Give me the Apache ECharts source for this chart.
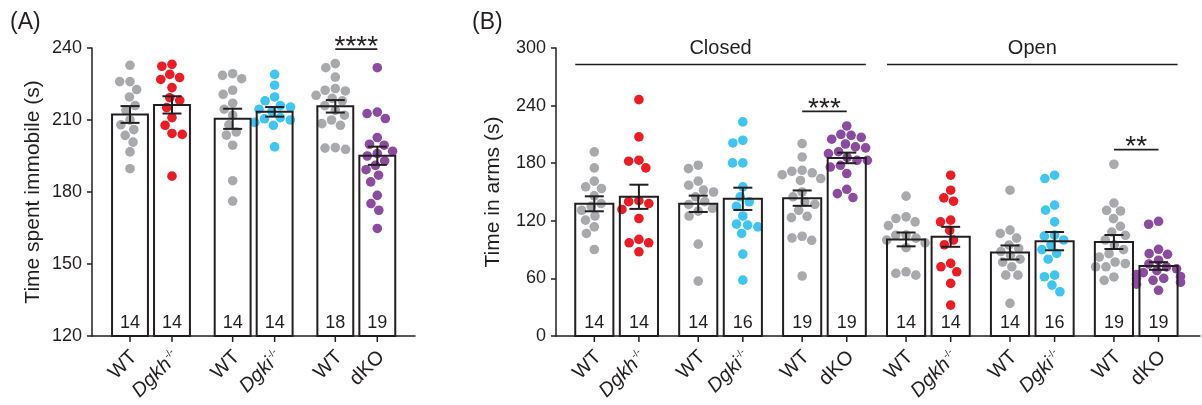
<!DOCTYPE html>
<html>
<head>
<meta charset="utf-8">
<script src="https://cdn.jsdelivr.net/npm/echarts@6.0.0/dist/echarts.min.js"></script>
<style>
  html, body { margin: 0; padding: 0; background: #fff; }
  #main { width: 1202px; height: 405px; }
</style>
</head>
<body>
<div id="main"></div>
<script>
// ---- panel A: time spent immobile ----
let labelsA = ['WT', 'Dgkh-/-', 'WT', 'Dgki-/-', 'WT', 'dKO'];
let meanA = [212.3, 216.3, 210.5, 213.4, 215.7, 195.1];
let semA = [3.5, 3.6, 4.2, 2.0, 2.6, 3.8];
let nA = [14, 14, 14, 14, 18, 19];
let dotsA = [
  [232.8, 226, 226, 222.7, 219.6, 216, 214, 210, 208, 206, 203.6, 200.8, 196.7, 189.7],
  [233.2, 232.4, 229, 227.7, 226.9, 223.5, 219.3, 218.2, 215.2, 211, 207.8, 204.4, 204, 186.6],
  [229.3, 228.6, 227.2, 222.4, 220.7, 217, 214.5, 212, 208, 205, 203.7, 199.5, 184.7, 176.2],
  [229, 224.5, 219.6, 218, 216, 215.4, 214.5, 213.5, 211, 210, 210.5, 209, 207.8, 198.8],
  [233.5, 231.8, 227.9, 223.1, 222.4, 222.1, 220.3, 219, 218, 216, 214, 212, 210, 208.5, 207.8, 198.5, 198.3, 197.8],
  [231.8, 213.3, 212.7, 210.6, 202.7, 199.9, 199.5, 197, 196, 195, 193, 191.1, 189.3, 187, 184.2, 178.6, 175.2, 172.4, 164.8]
];
let sigA = [[4, 5]];
let sigTextA = ['****'];
let sigLevelA = [239.5];

// ---- panel B: time in closed / open arms ----
let arms = ['Closed', 'Open'];
let armLevel = [282.7, 282.7];
let labelsB = ['WT', 'Dgkh-/-', 'WT', 'Dgki-/-', 'WT', 'dKO', 'WT', 'Dgkh-/-', 'WT', 'Dgki-/-', 'WT', 'dKO'];
let meanB = [137.7, 145.0, 137.7, 142.9, 143.6, 185.5, 100.6, 103.3, 87.0, 98.8, 97.9, 72.9];
let semB = [7.8, 12.6, 8.5, 11.6, 8.0, 5.5, 7.2, 10.4, 7.3, 9.5, 7.3, 4.0];
let nB = [14, 14, 14, 16, 19, 19, 14, 14, 14, 16, 19, 19];
let dotsB = [
  [191.8, 175.1, 161.3, 155.4, 153.6, 146, 138, 135, 131, 125, 120.7, 113.7, 106.8, 90.1],
  [246.2, 207.4, 183.1, 182.1, 175.1, 141, 140, 138, 131.8, 122.4, 100.6, 97.1, 97.1, 87.7],
  [177.9, 174.4, 161.3, 157.1, 152, 150, 145, 140, 137, 133, 130, 125, 95.7, 57.2],
  [223, 203.9, 201.1, 180.3, 180.3, 155.4, 145, 139.8, 135, 125, 116.5, 115.5, 113.7, 106.8, 85.3, 58.2],
  [200.4, 186.5, 172.6, 171.6, 170, 168, 164, 162, 150, 145, 139.6, 137.2, 130.9, 124.7, 123.3, 103.9, 102.1, 99.7, 62.5],
  [218.8, 210, 209, 207, 205, 200, 197, 196, 192, 190, 186, 183, 183, 177.8, 176, 169.2, 152.8, 148.3, 144.2],
  [145.7, 124.1, 122.4, 118.9, 115, 105, 105.1, 102, 99.9, 97, 92, 66.9, 65.2, 63.4],
  [167.5, 151.9, 143.9, 140.4, 120.7, 118.9, 110, 100, 95, 75.6, 72.1, 66.9, 54.8, 32.2],
  [151.9, 110.3, 106.8, 102, 94.7, 91.2, 88, 84, 80, 77, 72.1, 63.4, 63.4, 34],
  [167.5, 164, 136.3, 131.1, 118.9, 105.1, 104, 100, 95, 90, 86, 80, 63.4, 61.7, 53, 46.1],
  [178.9, 138.5, 130.9, 130.2, 122.3, 114.3, 108.3, 104.9, 100, 95, 90, 85.8, 82.3, 77.1, 75.4, 72.1, 72.1, 61.5, 58],
  [119.5, 116.4, 90.3, 85.8, 85.1, 78.9, 75, 72, 70, 68, 66, 64, 62, 60, 59.8, 58, 56, 54, 47.6]
];
let sigB = [[4, 5], [10, 11]];
let sigTextB = ['***', '**'];
let sigLevelB = [234, 194.2];

let genoColor = { 'WT': '#a7a9ac', 'Dgkh-/-': '#ed1c24', 'Dgki-/-': '#3ec5f1', 'dKO': '#8b4b9f' };
let INK = '#231f20';
let FONT = '"Liberation Sans", Arial, Helvetica, sans-serif';
let BAR_W = 0.855; // bar width, in units of the in-pair spacing
let DOT_R = 4.8;

// bar centres: pairs one unit apart, groups gstep apart
function centres(count, gstep) {
  let xs = [];
  for (let i = 0; i < count; i++) xs.push(Math.floor(i / 2) * gstep + (i % 2));
  return xs;
}

// simple beeswarm: push each dot sideways as little as needed
function swarm(ys, dist, maxHalf) {
  let order = ys.map((y, i) => i).sort((a, b) => ys[a] - ys[b]);
  let placed = [];
  let xs = new Array(ys.length);
  order.forEach(i => {
    let y = ys[i];
    let blocks = [];
    placed.forEach(p => {
      let dy = Math.abs(p.y - y);
      if (dy < dist) {
        let w = Math.sqrt(dist * dist - dy * dy);
        blocks.push([p.x - w, p.x + w]);
      }
    });
    let cands = [0];
    blocks.forEach(b => cands.push(b[0], b[1]));
    cands.sort((a, b) => Math.abs(a) - Math.abs(b));
    let best = 0;
    for (let c of cands) {
      if (blocks.every(b => c <= b[0] + 1e-6 || c >= b[1] - 1e-6)) { best = c; break; }
    }
    if (Math.abs(best) > maxHalf) best = Math.sign(best) * maxHalf;
    xs[i] = best;
    placed.push({ x: best, y: y });
  });
  return xs;
}

function labelRich(name) {
  if (name.indexOf('-/-') > 0) return '{it|' + name.replace('-/-', '') + '}{sup|-/-}';
  return '{n|' + name + '}';
}

function panelSeries(k, p) {
  let xs = centres(p.means.length, p.gstep);
  let data = p.means.map((m, i) => [xs[i], m, p.sems[i], p.ns[i]]);
  let common = { type: 'custom', xAxisIndex: k, yAxisIndex: k, clip: false, silent: true, animation: false };
  let list = [];
  // white bar bodies
  list.push(Object.assign({}, common, {
    z: 1, data: data,
    renderItem: function (params, api) {
      let top = api.coord([api.value(0), api.value(1)]);
      let base = api.coord([api.value(0), p.yMin]);
      let w = api.size([BAR_W, 0])[0];
      return { type: 'rect', shape: { x: top[0] - w / 2, y: top[1], width: w, height: base[1] - top[1] }, style: { fill: '#fff' } };
    }
  }));
  // individual animals
  list.push(Object.assign({}, common, {
    z: 2, data: data,
    renderItem: function (params, api) {
      let i = params.dataIndex;
      let cx = api.coord([api.value(0), p.yMin])[0];
      let ys = p.dots[i].map(v => api.coord([api.value(0), v])[1]);
      let offs = swarm(ys, DOT_R * 2.15, 22);
      let color = genoColor[p.labels[i]];
      return {
        type: 'group',
        children: ys.map((y, j) => ({ type: 'circle', shape: { cx: cx + offs[j], cy: y, r: DOT_R }, style: { fill: color } }))
      };
    }
  }));
  // outlines, error bars, n, ticks and genotype labels
  list.push(Object.assign({}, common, {
    z: 3, data: data,
    renderItem: function (params, api) {
      let i = params.dataIndex;
      let x = api.value(0), m = api.value(1), s = api.value(2);
      let top = api.coord([x, m]);
      let base = api.coord([x, p.yMin]);
      let hi = api.coord([x, m + s])[1];
      let lo = api.coord([x, m - s])[1];
      let w = api.size([BAR_W, 0])[0];
      let cx = top[0];
      let line = { stroke: INK, lineWidth: 2 };
      return {
        type: 'group',
        children: [
          { type: 'rect', shape: { x: cx - w / 2, y: top[1], width: w, height: base[1] - top[1] }, style: { fill: null, stroke: INK, lineWidth: 2 } },
          { type: 'line', shape: { x1: cx, y1: hi, x2: cx, y2: lo }, style: line },
          { type: 'line', shape: { x1: cx - 9.5, y1: hi, x2: cx + 9.5, y2: hi }, style: line },
          { type: 'line', shape: { x1: cx - 9.5, y1: lo, x2: cx + 9.5, y2: lo }, style: line },
          { type: 'text', x: cx, y: base[1] - 4, style: { text: String(api.value(3)), font: '18px ' + FONT, fill: INK, align: 'center', verticalAlign: 'bottom' } },
          { type: 'line', shape: { x1: cx, y1: base[1], x2: cx, y2: base[1] + 6 }, style: { stroke: INK, lineWidth: 1.5 } },
          {
            type: 'text', x: cx + 4, y: base[1] + 18, rotation: Math.PI / 4,
            style: {
              text: labelRich(p.labels[i]), align: 'right', verticalAlign: 'middle', fill: INK,
              rich: {
                n: { fontSize: 20, fontFamily: FONT, fill: INK },
                it: { fontSize: 20, fontFamily: FONT, fontStyle: 'italic', fill: INK },
                sup: { fontSize: 10, fontFamily: FONT, fill: INK, verticalAlign: 'top', padding: [0, 0, 9, 1] }
              }
            }
          }
        ]
      };
    }
  }));
  // significance bars
  list.push(Object.assign({}, common, {
    z: 4, encode: { x: [0, 1], y: 2 },
    data: p.sig.map((pr, j) => [xs[pr[0]], xs[pr[1]], p.sigLevel[j]]),
    renderItem: function (params, api) {
      let a = api.coord([api.value(0), api.value(2)]);
      let b = api.coord([api.value(1), api.value(2)]);
      return {
        type: 'group',
        children: [
          { type: 'line', shape: { x1: a[0], y1: a[1], x2: b[0], y2: b[1] }, style: { stroke: INK, lineWidth: 1.8 } },
          { type: 'text', x: (a[0] + b[0]) / 2, y: a[1] - 2, style: { text: p.sigText[params.dataIndex], font: '28px ' + FONT, fill: INK, align: 'center', verticalAlign: 'middle' } }
        ]
      };
    }
  }));
  // arm brackets (panel B)
  if (p.groups) {
    list.push(Object.assign({}, common, {
      z: 4, encode: { x: [0, 1], y: 2 },
      data: p.groups.map((g, j) => [xs[j * 6] - BAR_W / 2, xs[j * 6 + 5] + BAR_W / 2, p.groupLevel[j]]),
      renderItem: function (params, api) {
        let a = api.coord([api.value(0), api.value(2)]);
        let b = api.coord([api.value(1), api.value(2)]);
        return {
          type: 'group',
          children: [
            { type: 'line', shape: { x1: a[0], y1: a[1], x2: b[0], y2: b[1] }, style: { stroke: INK, lineWidth: 1.5 } },
            { type: 'text', x: (a[0] + b[0]) / 2, y: a[1] - 16, style: { text: p.groups[params.dataIndex], font: '20px ' + FONT, fill: INK, align: 'center', verticalAlign: 'middle' } }
          ]
        };
      }
    }));
  }
  return list;
}

function yAxis(k, name, min, max, interval, gap) {
  return {
    type: 'value', gridIndex: k, min: min, max: max, interval: interval,
    name: name, nameLocation: 'middle', nameGap: gap,
    nameTextStyle: { fontSize: 21, fontFamily: FONT, color: INK },
    axisLine: { show: true, onZero: false, lineStyle: { color: INK, width: 1.5 } },
    axisTick: { show: true, length: 5, lineStyle: { color: INK, width: 1.5 } },
    axisLabel: { fontSize: 18, fontFamily: FONT, color: INK, margin: 10 },
    splitLine: { show: false }
  };
}

function xAxis(k, min, max) {
  return {
    type: 'value', gridIndex: k, min: min, max: max,
    axisLine: { show: true, onZero: false, lineStyle: { color: INK, width: 1.5 } },
    axisTick: { show: false }, axisLabel: { show: false }, splitLine: { show: false }
  };
}

let gstepA = 2.445, gstepB = 2.33;

let chart = echarts.init(document.getElementById('main'), null, { renderer: 'canvas' });
chart.setOption({
  backgroundColor: '#fff',
  animation: false,
  grid: [
    { left: 92, top: 48, width: 323, height: 288, outerBoundsMode: 'none' },
    { left: 556, top: 48, width: 644, height: 288, outerBoundsMode: 'none' }
  ],
  xAxis: [xAxis(0, -0.905, 6.788), xAxis(1, -0.859, 13.58)],
  yAxis: [
    yAxis(0, 'Time spent immobile (s)', 120, 240, 30, 48),
    yAxis(1, 'Time in arms (s)', 0, 300, 60, 52)
  ],
  graphic: [
    { type: 'text', left: 10, top: 11, style: { text: '(A)', font: '23px ' + FONT, fill: INK } },
    { type: 'text', left: 472, top: 11, style: { text: '(B)', font: '23px ' + FONT, fill: INK } }
  ],
  series: [].concat(
    panelSeries(0, { means: meanA, sems: semA, ns: nA, dots: dotsA, labels: labelsA, gstep: gstepA, yMin: 120, sig: sigA, sigText: sigTextA, sigLevel: sigLevelA }),
    panelSeries(1, { means: meanB, sems: semB, ns: nB, dots: dotsB, labels: labelsB, gstep: gstepB, yMin: 0, sig: sigB, sigText: sigTextB, sigLevel: sigLevelB, groups: arms, groupLevel: armLevel })
  )
});
</script>
</body>
</html>
